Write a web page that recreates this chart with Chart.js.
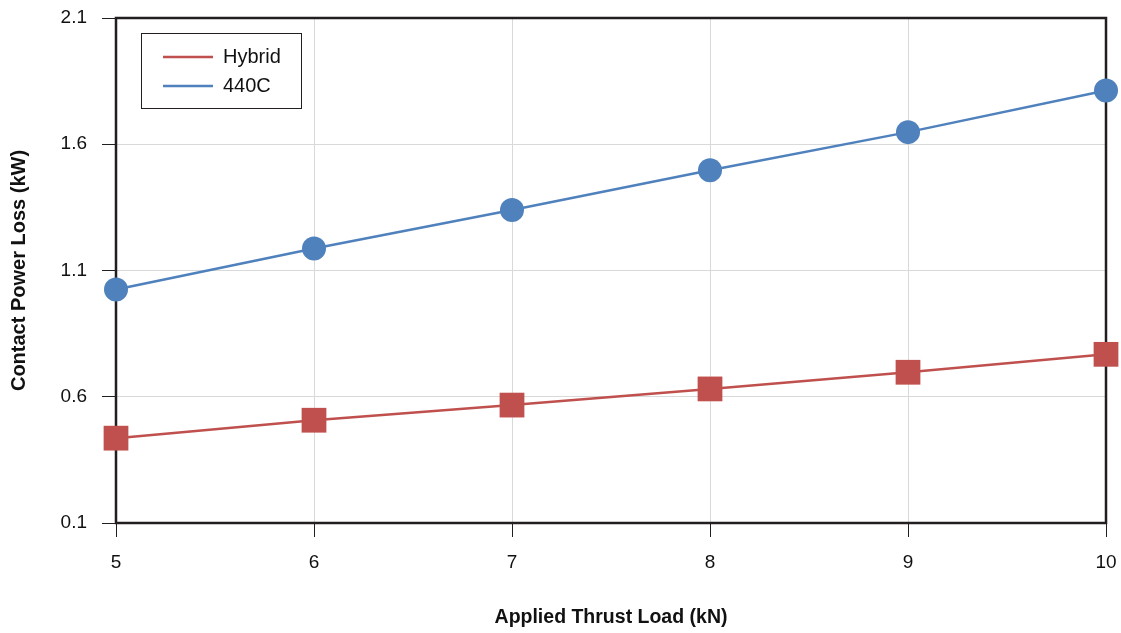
<!DOCTYPE html>
<html>
<head>
<meta charset="utf-8">
<script src="https://cdn.jsdelivr.net/npm/chart.js@4/dist/chart.umd.min.js"></script>
<style>
  html, body { margin:0; padding:0; background:#fff; }
  #wrap { width:1121px; height:633px; }
</style>
</head>
<body>
<div id="wrap"><canvas id="c" width="1121" height="633"></canvas></div>
<script>
// datos
const loads = [5, 6, 7, 8, 9, 10];
const hybrid = [0.436, 0.507, 0.567, 0.631, 0.697, 0.768];
const c440 = [1.025, 1.187, 1.340, 1.497, 1.648, 1.813];
const yTicks = [0.1, 0.6, 1.1, 1.6, 2.1];
const xTicks = [5, 6, 7, 8, 9, 10];

const FONT = '"Liberation Sans", Arial, sans-serif';

function pts(vals){ return loads.map((x,i)=>({x, y:vals[i]})); }

// marco negro + leyenda en recuadro
const frame = {
  id:'frame',
  beforeDatasetsDraw(chart){
    const {ctx, chartArea:a} = chart;
    ctx.save();
    ctx.strokeStyle = '#231f20';
    ctx.lineWidth = 2.5;
    ctx.strokeRect(a.left, a.top, a.right - a.left, a.bottom - a.top);
    ctx.restore();
  },
  afterDraw(chart){
    const {ctx} = chart;
    ctx.save();
    ctx.strokeStyle = '#231f20';
    ctx.lineWidth = 1;
    ctx.strokeRect(141.5, 33.5, 160, 75);
    ctx.font = '20px ' + FONT;
    ctx.textBaseline = 'middle';
    chart.data.datasets.forEach((d, i) => {
      const y = 57 + i * 29;
      ctx.strokeStyle = d.borderColor;
      ctx.lineWidth = 2.5;
      ctx.beginPath(); ctx.moveTo(163, y); ctx.lineTo(213, y); ctx.stroke();
      ctx.fillStyle = '#111';
      ctx.fillText(d.label, 223, y);
    });
    ctx.restore();
  }
};

new Chart(document.getElementById('c'), {
  type:'line',
  data:{
    datasets:[
      { label:'Hybrid', data:pts(hybrid), borderColor:'#c0504d', backgroundColor:'#c0504d',
        borderWidth:2.5, pointStyle:'rect', pointRadius:17.5, pointBorderWidth:0, clip:false },
      { label:'440C', data:pts(c440), borderColor:'#4f81bd', backgroundColor:'#4f81bd',
        borderWidth:2.5, pointStyle:'circle', pointRadius:12, pointBorderWidth:0, clip:false }
    ]
  },
  plugins:[frame],
  options:{
    responsive:false, animation:false,
    layout:{ autoPadding:false, padding:{ top:18, right:15, left:0, bottom:0 } },
    plugins:{ legend:{ display:false }, tooltip:{ enabled:false } },
    scales:{
      x:{
        type:'linear', min:5, max:10,
        afterBuildTicks(s){ s.ticks = xTicks.map(v=>({value:v})); },
        afterFit(s){ s.height = 633 - 523; s.paddingLeft = 0; s.paddingRight = 0; },
        grid:{ color:'#d9d9d9', lineWidth:1, tickLength:14, tickColor:'#231f20' },
        border:{ display:false },
        ticks:{ color:'#111', font:{ family:FONT, size:19 }, padding:14, maxRotation:0 },
        title:{ display:true, text:'Applied Thrust Load (kN)', color:'#111',
          font:{ family:FONT, size:19.5, weight:'bold' }, padding:{ top:18 } }
      },
      y:{
        min:0.1, max:2.1,
        afterBuildTicks(s){ s.ticks = yTicks.map(v=>({value:v})); },
        afterFit(s){ s.width = 116; s.paddingTop = 0; s.paddingBottom = 0; },
        grid:{ color:'#d9d9d9', lineWidth:1, tickLength:14, tickColor:'#231f20' },
        border:{ display:false },
        ticks:{ color:'#111', font:{ family:FONT, size:19 }, padding:15,
          callback:v=>v.toFixed(1) },
        title:{ display:true, text:'Contact Power Loss (kW)', color:'#111',
          font:{ family:FONT, size:20, weight:'bold' }, padding:{ top:7, bottom:8 } }
      }
    }
  }
});
</script>
</body>
</html>
